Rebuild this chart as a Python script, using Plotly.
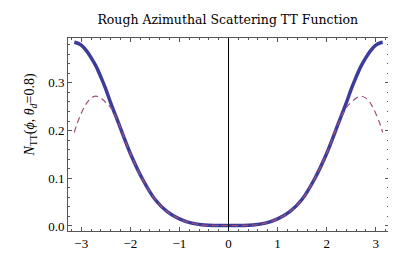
import plotly.graph_objects as go

# positive half of phi (curve is symmetric about 0)
phi_half = [0.0, 0.25, 0.5, 0.75, 1.0, 1.25, 1.5, 1.75, 2.0, 2.25, 2.4, 2.5, 2.6, 2.7, 2.8, 2.9, 3.0, 3.1, 3.14159]
blue_half = [0.001, 0.001, 0.002, 0.006, 0.015, 0.030, 0.056, 0.098, 0.152, 0.218, 0.258, 0.287, 0.312, 0.335, 0.353, 0.368, 0.379, 0.384, 0.385]
dash_half = [0.001, 0.001, 0.002, 0.006, 0.015, 0.030, 0.056, 0.098, 0.152, 0.218, 0.248, 0.259, 0.268, 0.272, 0.268, 0.256, 0.236, 0.210, 0.196]

phi = [-v for v in phi_half[::-1]] + phi_half[1:]
blue = blue_half[::-1] + blue_half[1:]
dashed = dash_half[::-1] + dash_half[1:]

title = "Rough Azimuthal Scattering TT Function"
x_ticks = [-3, -2, -1, 0, 1, 2, 3]
y_ticks = [0.0, 0.1, 0.2, 0.3]
y_tick_text = ["0.0", "0.1", "0.2", "0.3"]

serif = "Liberation Serif"
frame = "#555555"

fig = go.Figure()
fig.add_trace(go.Scatter(x=phi, y=blue, mode="lines", line=dict(color="#3d3d99", width=3.5, shape="spline"), showlegend=False))
fig.add_trace(go.Scatter(x=phi, y=dashed, mode="lines", line=dict(color="#a3507c", width=1.2, dash="6px,4px", shape="spline"), showlegend=False))

fig.add_shape(type="line", xref="x", yref="paper", x0=0, x1=0, y0=0, y1=1, line=dict(color="black", width=1))

axis_common = dict(showgrid=False, zeroline=False, showline=True, linecolor=frame, linewidth=1, mirror="allticks",
                   ticks="inside", ticklen=4, tickcolor=frame, tickfont=dict(family=serif, size=13, color="black"))

fig.update_layout(
    width=396, height=255,
    margin=dict(l=60, r=15, t=30, b=28),
    paper_bgcolor="white", plot_bgcolor="white",
    title=dict(text=title, x=0.555, xanchor="center", y=0.955, yanchor="middle",
               font=dict(family="DejaVu Serif", size=12.5, color="black")),
    xaxis=dict(range=[-3.27, 3.27], tickvals=x_ticks, ticktext=["\u22123", "\u22122", "\u22121", "0", "1", "2", "3"],
               minor=dict(dtick=0.2, tick0=0, ticks="inside", ticklen=2, tickcolor=frame), **axis_common),
    yaxis=dict(range=[-0.0105, 0.394], tickvals=y_ticks, ticktext=y_tick_text,
               minor=dict(dtick=0.02, tick0=0, ticks="inside", ticklen=2, tickcolor=frame), **axis_common),
)

fig.add_annotation(xref="paper", yref="paper", x=-0.15, y=0.6, textangle=-90, showarrow=False,
                   text="<i>N</i><sub>TT</sub>(<i>\u03d5</i>, <i>\u03b8</i><sub><i>d</i></sub>=0.8)",
                   font=dict(family=serif, size=14, color="black"))
fig.add_annotation(xref="paper", yref="paper", x=1.0, y=0.0, xshift=4, yshift=-4, xanchor="left", yanchor="middle",
                   showarrow=False, borderpad=0, text="<i>\u03d5</i>",
                   font=dict(family=serif, size=12, color="#000000"))

fig.write_html("out.html")
